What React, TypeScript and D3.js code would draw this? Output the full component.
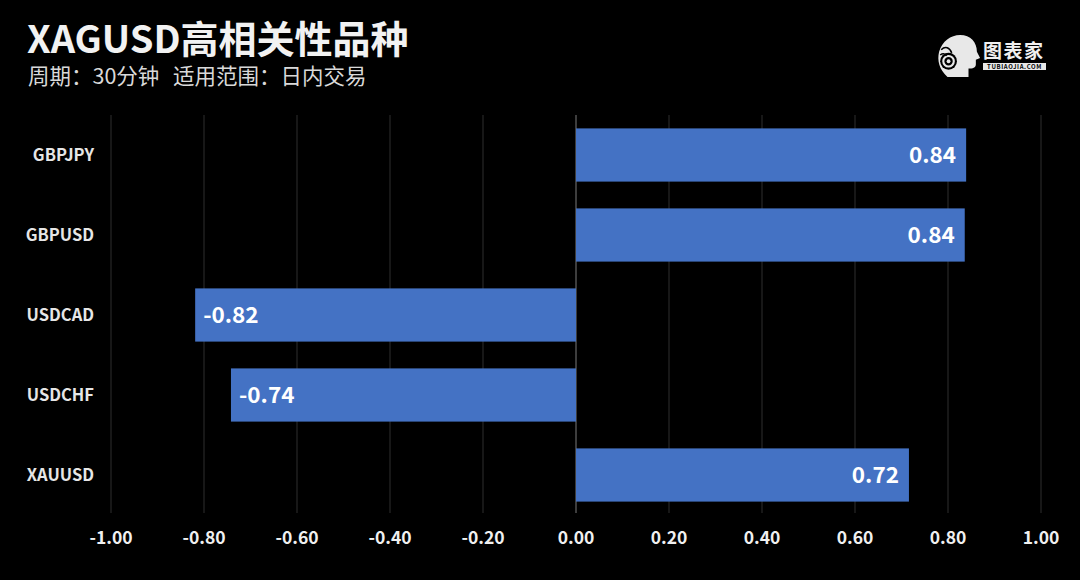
import React from "react";
import * as d3 from "d3";

const categories = ["GBPJPY", "GBPUSD", "USDCAD", "USDCHF", "XAUUSD"];
const values = [0.839, 0.836, -0.819, -0.742, 0.716];
const ticks = [-1, -0.8, -0.6, -0.4, -0.2, 0, 0.2, 0.4, 0.6, 0.8, 1];
const title = "XAGUSD高相关性品种";
const subtitleA = "周期：30分钟";
const subtitleB = "适用范围：日内交易";

const W = 1080;
const H = 580;
const FONT = "'Noto Sans CJK SC', 'Noto Sans', sans-serif";

export default function App() {
  const x = d3.scaleLinear().domain([-1, 1]).range([111, 1041]);
  const y = d3.scaleBand<string>().domain(categories).range([115, 515]).paddingInner(0.335).paddingOuter(0.1675);
  const plotTop = 115;
  const plotBottom = 513;

  return (
    <svg width={W} height={H} style={{ position: "absolute", left: 0, top: 0, background: "#000" }}>
      <rect x={0} y={0} width={W} height={H} fill="#000" />
      <text x={27} y={53} fill="#f2f2f2" fontFamily={FONT} fontWeight={700} fontSize={38}>{title}</text>
      <text x={28} y={84} fill="#d9d9d9" fontFamily={FONT} fontWeight={400} fontSize={21.5}>{subtitleA}</text>
      <text x={173} y={84} fill="#d9d9d9" fontFamily={FONT} fontWeight={400} fontSize={21.5}>{subtitleB}</text>

      {/* logo */}
      <g transform="translate(937,35) scale(1.05)">
        <path d="M10,40 C2,33 0,24 2,16 C5,6 13,0 22,0 C32,0 38,7 38,16 L41,22 L37,23.5 L37,28 C37,31 34,32 30,32 L30,40 Z" fill="#e8e8e8" />
        <circle cx={11} cy={25} r={8} fill="#000" />
        <circle cx={11} cy={25} r={5} fill="none" stroke="#e8e8e8" strokeWidth={2} />
        <circle cx={11} cy={25} r={1.8} fill="#e8e8e8" />
        <path d="M4,14 C8,10 12,12 14,17" fill="none" stroke="#000" strokeWidth={1.5} />
        <path d="M3,19 C6,17 8,18 9,20" fill="none" stroke="#000" strokeWidth={1.3} />
      </g>
      <text x={983} y={58} fill="#f0f0f0" fontFamily={FONT} fontWeight={700} fontSize={19} letterSpacing={1.5}>图表家</text>
      <rect x={983} y={63} width={63} height={7} fill="#e8e8e8" />
      <text x={1014.5} y={69} fill="#000" fontFamily={FONT} fontWeight={700} fontSize={6} textAnchor="middle" letterSpacing={0.6}>TUBIAOJIA.COM</text>

      {/* grid */}
      {ticks.map((t) => (
        <line key={"g" + t} x1={x(t)} x2={x(t)} y1={plotTop} y2={plotBottom} stroke={t === 0 ? "#7a7a7a" : "#2e2e2e"} strokeWidth={1} />
      ))}

      {/* bars */}
      {categories.map((c, i) => {
        const v = values[i];
        const x0 = x(Math.min(0, v));
        const x1 = x(Math.max(0, v));
        const by = y(c)!;
        const bh = y.bandwidth();
        return (
          <g key={c}>
            <rect x={x0} y={by} width={x1 - x0} height={bh} fill="#4472C4" />
            <text
              x={v >= 0 ? x1 - 10 : x0 + 8}
              y={by + bh / 2 + 8}
              textAnchor={v >= 0 ? "end" : "start"}
              fill="#ffffff"
              fontFamily={FONT}
              fontWeight={700}
              fontSize={22.5}
            >
              {v.toFixed(2)}
            </text>
            <text x={94} y={by + bh / 2 + 6} textAnchor="end" fill="#e6e6e6" fontFamily={FONT} fontWeight={700} fontSize={16.5}>
              {c}
            </text>
          </g>
        );
      })}

      {/* x tick labels */}
      {ticks.map((t) => (
        <text key={"t" + t} x={x(t)} y={544} textAnchor="middle" fill="#f0f0f0" fontFamily={FONT} fontWeight={700} fontSize={17.5}>
          {t.toFixed(2)}
        </text>
      ))}
    </svg>
  );
}
